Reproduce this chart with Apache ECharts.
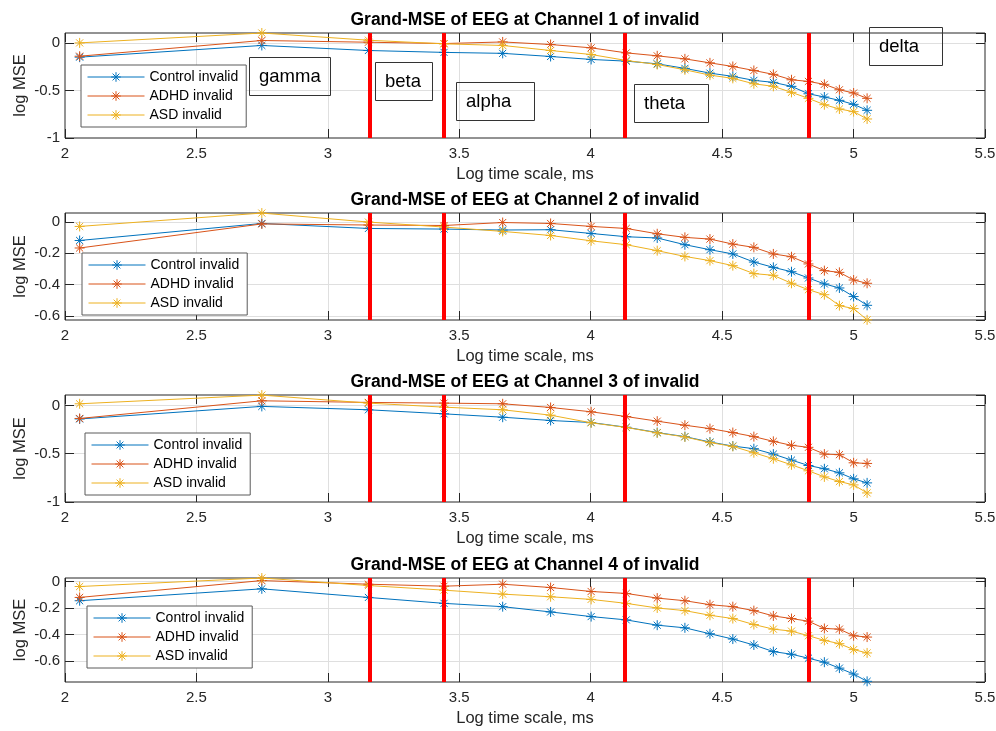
<!DOCTYPE html>
<html><head><meta charset="utf-8">
<script src="https://cdn.jsdelivr.net/npm/echarts@6/dist/echarts.min.js"></script>
<style>html,body{margin:0;padding:0;background:#fff}#c{width:996px;height:731px}</style>
</head><body><div id="c"></div>
<script>
// ---- data ----
const xScale = [2.0557, 2.7488, 3.1543, 3.4420, 3.6651, 3.8474, 4.0016, 4.1352, 4.2530, 4.3583,
                4.4536, 4.5406, 4.6207, 4.6948, 4.7638, 4.8283, 4.8889, 4.9461, 5.0002, 5.0515];
const seriesNames = ['Control invalid', 'ADHD invalid', 'ASD invalid'];
const channelTitles = ['Grand-MSE of EEG at Channel 1 of invalid', 'Grand-MSE of EEG at Channel 2 of invalid',
                       'Grand-MSE of EEG at Channel 3 of invalid', 'Grand-MSE of EEG at Channel 4 of invalid'];
const bandEdges = [3.156, 3.442, 4.135, 4.828];
const bandLabels = ['gamma', 'beta', 'alpha', 'theta', 'delta'];
const xTicks = [2, 5.5, 0.5];            // min, max, step
const yMin = [-1, -0.627, -1, -0.76];
const yMax = [0.104, 0.058, 0.108, 0.027];
const yStep = [0.5, 0.2, 0.5, 0.2];

const control1 = [-0.15, -0.027, -0.08, -0.10, -0.11, -0.143, -0.174, -0.192, -0.22, -0.268, -0.318, -0.352, -0.394, -0.415, -0.457, -0.535, -0.569, -0.604, -0.646, -0.709];
const adhd1    = [-0.14, 0.025, 0.007, -0.007, 0.01, -0.017, -0.052, -0.105, -0.136, -0.168, -0.21, -0.248, -0.29, -0.331, -0.388, -0.405, -0.436, -0.493, -0.527, -0.583];
const asd1     = [0.0, 0.104, 0.028, -0.01, -0.027, -0.08, -0.122, -0.185, -0.227, -0.283, -0.339, -0.373, -0.43, -0.457, -0.52, -0.583, -0.65, -0.695, -0.723, -0.8];

const control2 = [-0.118, -0.009, -0.041, -0.045, -0.051, -0.049, -0.073, -0.094, -0.102, -0.145, -0.177, -0.204, -0.256, -0.29, -0.318, -0.358, -0.396, -0.422, -0.477, -0.533];
const adhd2    = [-0.166, -0.012, -0.019, -0.022, -0.003, -0.009, -0.028, -0.041, -0.075, -0.098, -0.109, -0.141, -0.162, -0.204, -0.222, -0.268, -0.311, -0.322, -0.371, -0.392];
const asd2     = [-0.028, 0.0575, 0.0, -0.032, -0.06, -0.086, -0.12, -0.145, -0.183, -0.22, -0.247, -0.279, -0.33, -0.341, -0.392, -0.433, -0.465, -0.535, -0.554, -0.626];

const control3 = [-0.14, -0.01, -0.045, -0.087, -0.122, -0.156, -0.177, -0.226, -0.281, -0.323, -0.379, -0.421, -0.448, -0.504, -0.566, -0.622, -0.656, -0.698, -0.76, -0.802];
const adhd3    = [-0.135, 0.048, 0.031, 0.024, 0.017, -0.021, -0.066, -0.115, -0.163, -0.205, -0.24, -0.281, -0.323, -0.372, -0.413, -0.434, -0.504, -0.51, -0.594, -0.601];
const asd3     = [0.017, 0.107, 0.024, -0.018, -0.045, -0.101, -0.18, -0.228, -0.284, -0.326, -0.385, -0.424, -0.49, -0.552, -0.615, -0.677, -0.74, -0.788, -0.823, -0.906];

const control4 = [-0.145, -0.055, -0.12, -0.165, -0.19, -0.23, -0.265, -0.29, -0.33, -0.35, -0.395, -0.435, -0.48, -0.53, -0.55, -0.58, -0.61, -0.655, -0.70, -0.755];
const adhd4    = [-0.12, 0.0075, -0.02, -0.035, -0.02, -0.045, -0.075, -0.09, -0.125, -0.145, -0.175, -0.19, -0.22, -0.26, -0.28, -0.30, -0.355, -0.36, -0.41, -0.42];
const asd4     = [-0.0375, 0.027, -0.03, -0.065, -0.095, -0.115, -0.135, -0.165, -0.2, -0.22, -0.255, -0.28, -0.325, -0.36, -0.375, -0.41, -0.445, -0.47, -0.515, -0.54];

const channelData = [[control1, adhd1, asd1], [control2, adhd2, asd2], [control3, adhd3, asd3], [control4, adhd4, asd4]];

// ---- styling / layout ----
const FONT = '"Liberation Sans", Arial, Helvetica, sans-serif';
const COLORS = ['#0072BD', '#D95319', '#EDB120'];
const AX = '#262626';
const GRIDC = '#dfdfdf';
const ASTER = 'path://M10 0L10 20M0 10L20 10M2.93 2.93L17.07 17.07M17.07 2.93L2.93 17.07';
const layout = [{top: 33, h: 105}, {top: 213, h: 107}, {top: 395, h: 107}, {top: 578, h: 104}];
const legendPos = [[81, 65], [82, 253], [85, 433], [87, 606]];
const boxRects = [[249, 57, 81, 38], [375, 62, 57, 38], [456, 82, 78, 38], [634, 84, 74, 38], [869, 27, 73, 38]];
const LEFT = 65, WIDTH = 920;

const grid = [], xAxis = [], yAxis = [], series = [], legend = [], graphic = [];
const tickStyle = {show: true, inside: true, length: 9, lineStyle: {color: AX, width: 1}};

layout.forEach((L, g) => {
  grid.push({left: LEFT, top: L.top, width: WIDTH, height: L.h, show: true, borderColor: AX, borderWidth: 1,
             backgroundColor: 'transparent', containLabel: false, outerBoundsMode: 'none'});
  const xBase = {type: 'value', gridIndex: g, min: xTicks[0], max: xTicks[1], interval: xTicks[2]};
  xAxis.push(Object.assign({}, xBase, {
    position: 'bottom',
    axisLine: {show: false, onZero: false},
    axisTick: tickStyle,
    axisLabel: {show: true, margin: 8, color: AX, fontSize: 15, fontFamily: FONT},
    splitLine: {show: true, showMinLine: false, showMaxLine: false, lineStyle: {color: GRIDC, width: 1}}
  }));
  xAxis.push(Object.assign({}, xBase, {
    position: 'top',
    axisLine: {show: false, onZero: false},
    axisTick: tickStyle,
    axisLabel: {show: false},
    splitLine: {show: false}
  }));
  const yBase = {type: 'value', gridIndex: g, min: yMin[g], max: yMax[g], minInterval: yStep[g], maxInterval: yStep[g], splitNumber: 4};
  yAxis.push(Object.assign({}, yBase, {
    position: 'left',
    axisLine: {show: false, onZero: false},
    axisTick: tickStyle,
    axisLabel: {show: true, margin: 5, color: AX, fontSize: 15, fontFamily: FONT, showMinLabel: yMin[g] % yStep[g] === 0, showMaxLabel: false},
    splitLine: {show: true, showMinLine: false, showMaxLine: false, lineStyle: {color: GRIDC, width: 1}}
  }));
  yAxis.push(Object.assign({}, yBase, {
    position: 'right',
    axisLine: {show: false, onZero: false},
    axisTick: tickStyle,
    axisLabel: {show: false},
    splitLine: {show: false}
  }));

  channelData[g].forEach((vals, i) => {
    const s = {
      name: seriesNames[i], type: 'line', xAxisIndex: 2 * g, yAxisIndex: 2 * g,
      data: xScale.map((x, k) => [x, vals[k]]),
      symbol: ASTER, symbolSize: 10, showSymbol: true, showAllSymbol: true,
      lineStyle: {color: COLORS[i], width: 1},
      itemStyle: {color: COLORS[i], borderColor: COLORS[i], borderWidth: 1},
      emphasis: {disabled: true}, silent: true, animation: false, z: 2 + i * 0.1
    };
    if (i === 2) {
      s.markLine = {
        silent: true, symbol: 'none', animation: false, label: {show: false},
        lineStyle: {color: '#ff0000', width: 4, type: 'solid'},
        emphasis: {disabled: true},
        data: bandEdges.map(v => ({xAxis: v}))
      };
    }
    series.push(s);
  });

  legend.push({
    show: true, orient: 'vertical', left: legendPos[g][0], top: legendPos[g][1],
    data: seriesNames.slice(), selectedMode: false,
    backgroundColor: '#ffffff', borderColor: '#5a5a5a', borderWidth: 1, borderRadius: 0,
    padding: [5, 8, 5, 6], itemGap: 5, itemWidth: 57, itemHeight: 12,
    textStyle: {fontSize: 14, color: '#000', fontFamily: FONT},
    itemStyle: {borderWidth: 1}, lineStyle: {width: 1}
  });

  graphic.push({type: 'text', x: LEFT + WIDTH / 2, y: L.top - 13, z: 10,
    style: {text: channelTitles[g], fontSize: 17.5, fontWeight: 'bold', fontFamily: FONT, fill: '#000', align: 'center', verticalAlign: 'middle'}});
  graphic.push({type: 'text', x: LEFT + WIDTH / 2, y: L.top + L.h + 36, z: 10,
    style: {text: 'Log time scale, ms', fontSize: 16.5, fontFamily: FONT, fill: AX, align: 'center', verticalAlign: 'middle'}});
  graphic.push({type: 'text', x: 20, y: L.top + L.h / 2, rotation: Math.PI / 2, z: 10,
    style: {text: 'log MSE', fontSize: 16.5, fontFamily: FONT, fill: AX, align: 'center', verticalAlign: 'middle'}});
});

bandLabels.forEach((t, i) => {
  const r = boxRects[i];
  graphic.push({type: 'rect', z: 10, shape: {x: r[0] + 0.5, y: r[1] + 0.5, width: r[2], height: r[3]},
    style: {fill: 'none', stroke: '#333333', lineWidth: 1}});
  graphic.push({type: 'text', z: 10, x: r[0] + 10, y: r[1] + r[3] / 2 + 1,
    style: {text: t, fontSize: 18.5, fontFamily: FONT, fill: '#000', align: 'left', verticalAlign: 'middle'}});
});

const chart = echarts.init(document.getElementById('c'), null, {renderer: 'canvas'});
chart.setOption({
  backgroundColor: '#ffffff',
  animation: false,
  grid, xAxis, yAxis, series, legend, graphic
});
</script></body></html>
